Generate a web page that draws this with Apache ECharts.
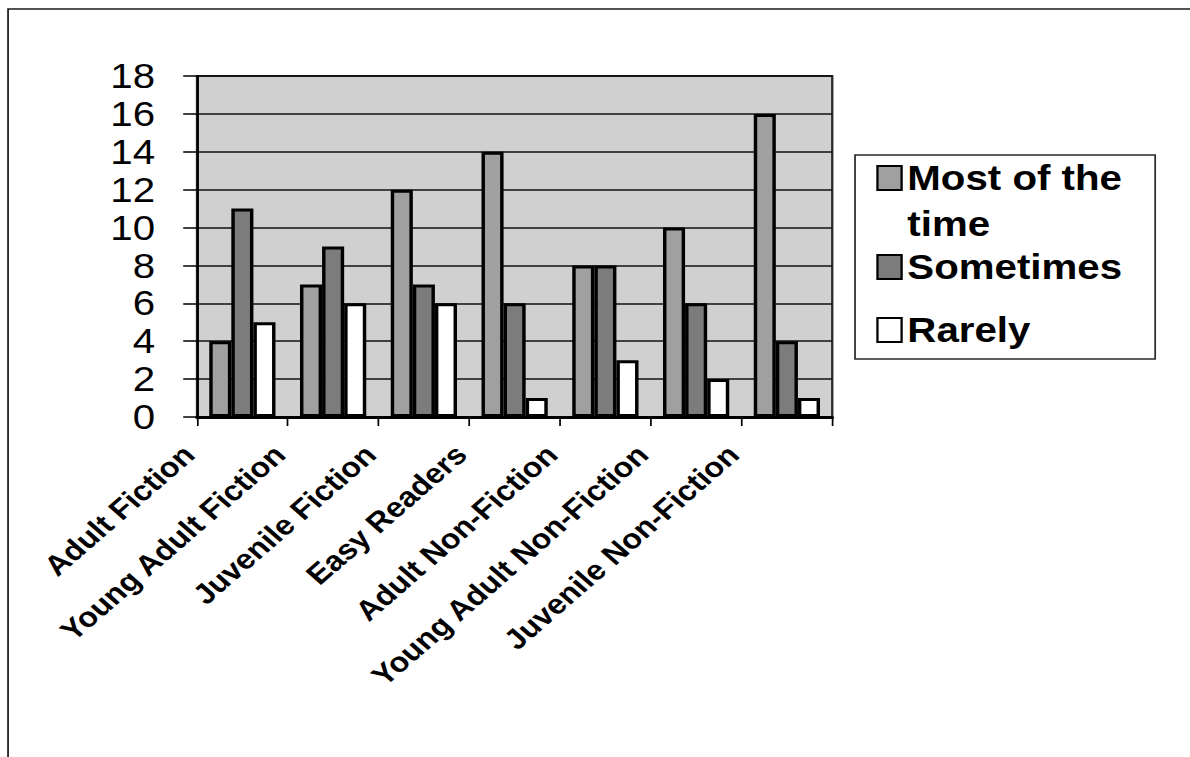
<!DOCTYPE html>
<html>
<head>
<meta charset="utf-8">
<title>Book collection usage</title>
<script src="https://cdn.jsdelivr.net/npm/echarts@6/dist/echarts.min.js"></script>
<style>
  html, body { margin: 0; padding: 0; background: #ffffff; overflow: hidden; }
  /* the chart is laid out on a narrower canvas and widened by 15% */
  #chart {
    width: 1035px;
    height: 757px;
    transform: scaleX(1.15);
    transform-origin: 0 0;
  }
</style>
</head>
<body>
<div id="chart"></div>
<script>
// Collection categories along the x axis
const categories = [
  'Adult Fiction',
  'Young Adult Fiction',
  'Juvenile Fiction',
  'Easy Readers',
  'Adult Non-Fiction',
  'Young Adult Non-Fiction',
  'Juvenile Non-Fiction'
];

// Response counts per category
const mostOfTheTime = [4, 7, 12, 14, 8, 10, 16];
const sometimes     = [11, 9, 7, 6, 8, 6, 4];
const rarely        = [5, 6, 6, 1, 3, 2, 1];

const seriesNames = ['Most of the time', 'Sometimes', 'Rarely'];
const seriesColors = ['#a0a0a0', '#7c7c7c', '#ffffff'];

// Value axis range
const yMin = 0, yMax = 18, yStep = 2;

const FONT = "'Liberation Sans', Arial, Helvetica, sans-serif";

const chart = echarts.init(document.getElementById('chart'), null, { renderer: 'svg' });

const barStyle = (color) => ({
  color: color,
  borderColor: '#000000',
  borderWidth: 3
});

const legendText = {
  fontFamily: FONT,
  fontSize: 35,
  fontWeight: 'bold',
  color: '#000000',
  lineHeight: 40
};

const legendBase = {
  orient: 'vertical',
  left: 762,
  padding: 0,
  icon: 'rect',
  itemWidth: 21,
  itemHeight: 24,
  itemGap: 0,
  selectedMode: false,
  textStyle: legendText
};

const option = {
  backgroundColor: '#ffffff',
  animation: false,
  graphic: [
    // outer frame: top and left edges
    {
      type: 'polyline',
      z: 0,
      shape: { points: [[7, 757], [7, 9], [1035, 9]] },
      style: { stroke: '#1a1a1a', lineWidth: 1.5, fill: null }
    },
    // legend box
    {
      type: 'rect',
      z: 0,
      shape: { x: 743.5, y: 155, width: 261, height: 204 },
      style: { stroke: '#2a2a2a', lineWidth: 1.5, fill: '#ffffff' }
    }
  ],
  legend: [
    // first entry wraps onto a second line; the leading blank line keeps
    // the swatch level with the first line of text
    Object.assign({}, legendBase, {
      top: 109,
      data: [seriesNames[0]],
      formatter: (name) => ' \n' + name.replace('the ', 'the\n'),
      textStyle: Object.assign({}, legendText, { lineHeight: 46 })
    }),
    Object.assign({}, legendBase, {
      top: 247,
      data: [seriesNames[1]]
    }),
    Object.assign({}, legendBase, {
      top: 310,
      data: [seriesNames[2]]
    })
  ],
  grid: {
    left: 171.3,
    right: 311.3,
    top: 76,
    bottom: 340,
    show: true,
    backgroundColor: '#d0d0d0',
    borderColor: '#2a2a2a',
    borderWidth: 2,
    containLabel: false
  },
  xAxis: {
    type: 'category',
    data: categories,
    boundaryGap: true,
    axisLine: { show: true, lineStyle: { color: '#000000', width: 3 } },
    axisTick: { show: true, length: 9, alignWithLabel: false, lineStyle: { color: '#000000', width: 1.5 } },
    axisLabel: {
      interval: 0,
      rotate: 45,
      margin: -14,
      padding: [0, 66, 0, 0],
      fontFamily: FONT,
      fontSize: 28,
      fontWeight: 'bold',
      color: '#000000'
    },
    splitLine: { show: false }
  },
  yAxis: {
    type: 'value',
    min: yMin,
    max: yMax,
    interval: yStep,
    axisLine: { show: true, lineStyle: { color: '#000000', width: 2 } },
    axisTick: { show: true, inside: false, length: 12, lineStyle: { color: '#000000', width: 1.5 } },
    axisLabel: {
      margin: 36.5,
      fontFamily: FONT,
      fontSize: 35,
      color: '#000000'
    },
    splitLine: { show: true, lineStyle: { color: '#111111', width: 1.5 } }
  },
  series: [
    {
      name: seriesNames[0],
      type: 'bar',
      data: mostOfTheTime,
      barGap: '0%',
      barCategoryGap: '27%',
      itemStyle: barStyle(seriesColors[0])
    },
    {
      name: seriesNames[1],
      type: 'bar',
      data: sometimes,
      barGap: '0%',
      barCategoryGap: '27%',
      itemStyle: barStyle(seriesColors[1])
    },
    {
      name: seriesNames[2],
      type: 'bar',
      data: rarely,
      barGap: '0%',
      barCategoryGap: '27%',
      itemStyle: barStyle(seriesColors[2])
    }
  ]
};

chart.setOption(option);
</script>
</body>
</html>
